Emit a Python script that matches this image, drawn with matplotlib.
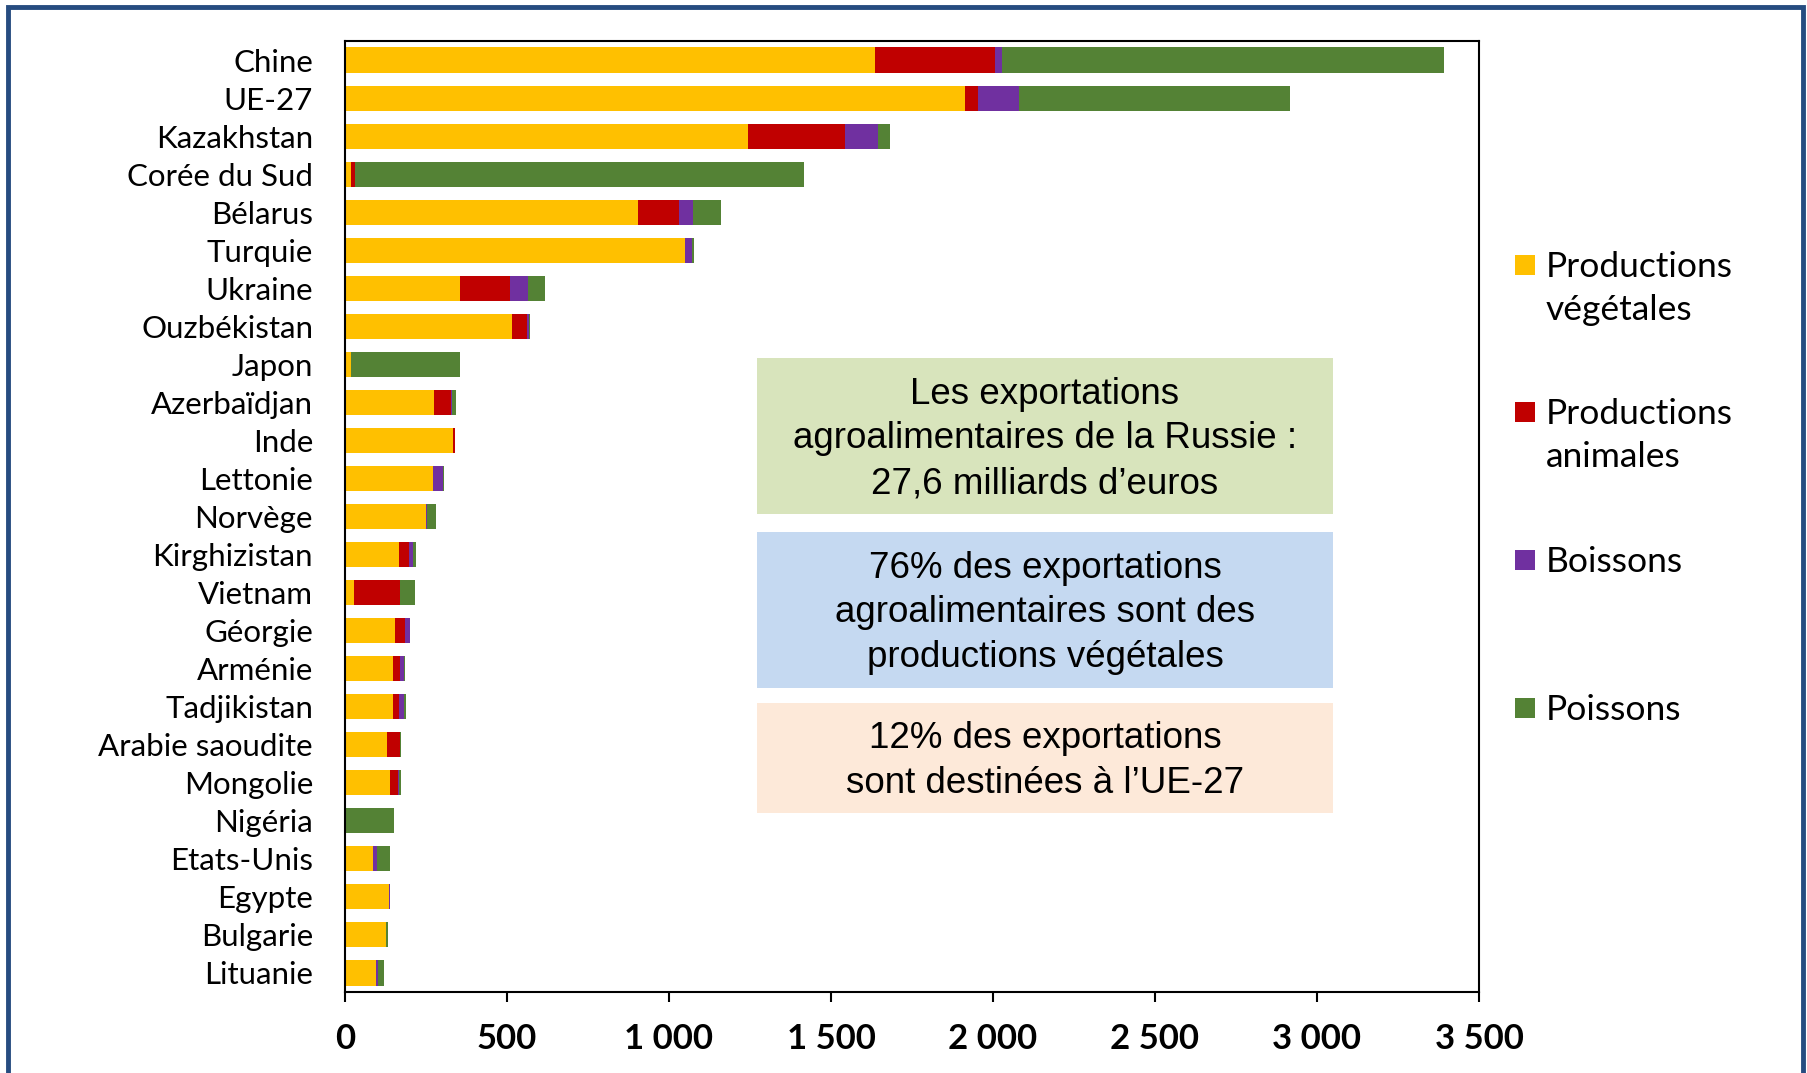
import matplotlib
matplotlib.use("Agg")
import matplotlib.pyplot as plt
from matplotlib.patches import Rectangle
from matplotlib.ticker import FuncFormatter
import numpy as np

# data (millions d'euros)
pays = ["Chine", "UE-27", "Kazakhstan", "Corée du Sud", "Bélarus", "Turquie",
        "Ukraine", "Ouzbékistan", "Japon", "Azerbaïdjan", "Inde", "Lettonie",
        "Norvège", "Kirghizistan", "Vietnam", "Géorgie", "Arménie",
        "Tadjikistan", "Arabie saoudite", "Mongolie", "Nigéria", "Etats-Unis",
        "Egypte", "Bulgarie", "Lituanie"]
vegetales = [1637, 1914, 1243, 17, 903, 1050, 354, 515, 17, 276, 334, 271,
             250, 166, 29, 155, 149, 149, 129, 139, 0, 86, 136, 128, 96]
animales = [370, 40, 301, 13, 127, 0, 156, 48, 0, 51, 5, 0,
            0, 33, 140, 30, 22, 19, 40, 25, 0, 0, 0, 0, 0]
boissons = [21, 125, 102, 0, 45, 21, 56, 5, 2, 3, 0, 31,
            3, 11, 0, 15, 12, 13, 0, 3, 0, 14, 4, 0, 5]
poissons = [1365, 838, 36, 1386, 86, 5, 50, 4, 335, 12, 0, 3,
            28, 9, 46, 2, 3, 6, 3, 5, 150, 39, 0, 5, 20]

series = [("Productions\nvégétales", vegetales, "#FFC000"),
          ("Productions\nanimales", animales, "#C00000"),
          ("Boissons", boissons, "#7030A0"),
          ("Poissons", poissons, "#548235")]

notes = [("Les exportations\nagroalimentaires de la Russie :\n27,6 milliards d’euros", "#D8E4BC"),
         ("76% des exportations\nagroalimentaires sont des\nproductions végétales", "#C5D9F1"),
         ("12% des exportations\nsont destinées à l’UE-27", "#FDE9D9")]

W, H = 1808, 1073
fig = plt.figure(figsize=(W / 100, H / 100), dpi=100)


def fx(x):
    return x / W


def fy(y):
    return 1 - y / H


ax = fig.add_axes([fx(345), fy(992), fx(1479) - fx(345), fy(41) - fy(992)])

y = np.arange(len(pays))
left = np.zeros(len(pays))
for label, vals, color in series:
    vals = np.array(vals, dtype=float)
    ax.barh(y, vals, left=left, height=0.66, color=color, edgecolor="none")
    left += vals

ax.set_ylim(len(pays) - 0.5, -0.5)
ax.set_xlim(0, 3500)
ax.set_xticks(np.arange(0, 3501, 500))
ax.xaxis.set_major_formatter(FuncFormatter(lambda v, p: f"{int(v):,}".replace(",", " ")))
ax.set_yticks(y)
ax.set_yticklabels(pays, fontfamily="Lato", fontsize=22.5)
for t in ax.get_xticklabels():
    t.set_fontfamily("Lato")
    t.set_fontweight("bold")
    t.set_fontsize(25)
ax.tick_params(axis="x", direction="out", length=7, width=1.5, pad=15)
ax.tick_params(axis="y", length=0, pad=23)
for s in ax.spines.values():
    s.set_linewidth(1.5)
    s.set_color("black")

# encadrés de texte
boxes = [(358, 514), (532, 688), (703, 813)]
for (txt, col), (y0, y1) in zip(notes, boxes):
    fig.patches.append(Rectangle((fx(757), fy(y1)), fx(1333) - fx(757), fy(y0) - fy(y1),
                                 transform=fig.transFigure, facecolor=col, edgecolor="none"))
    fig.text(fx(1045), fy((y0 + y1) / 2 + 3), txt, ha="center", va="center",
             fontfamily="Liberation Sans", fontsize=26.5, linespacing=1.37)

# légende
leg_y = [265, 412, 560, 708]
for (label, vals, color), yc in zip(series, leg_y):
    fig.patches.append(Rectangle((fx(1515), fy(yc + 10)), fx(20), 20 / H,
                                 transform=fig.transFigure, facecolor=color, edgecolor="none"))
    for i, line in enumerate(label.split("\n")):
        fig.text(fx(1546), fy(yc + 12 + 43 * i), line, ha="left", va="baseline",
                 fontfamily="Lato", fontsize=25.5)

# cadre bleu
fig.patches.append(Rectangle((fx(8), fy(1100)), fx(1803) - fx(8), fy(7) - fy(1100),
                             transform=fig.transFigure, facecolor="none",
                             edgecolor="#264C80", linewidth=3.5, clip_on=False))

fig.savefig("out.png", dpi=100, facecolor="white")
